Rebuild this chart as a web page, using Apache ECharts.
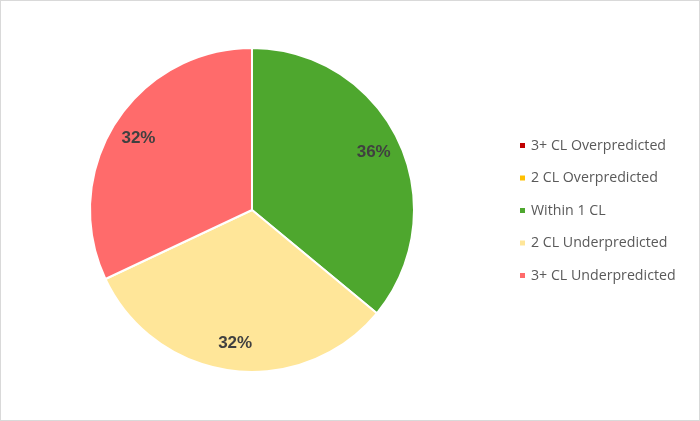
<!DOCTYPE html>
<html>
<head>
<meta charset="utf-8">
<script src="https://cdn.jsdelivr.net/npm/echarts@6/dist/echarts.min.js"></script>
<style>
    html, body { margin: 0; padding: 0; background: #fff; }
    #chart { width: 700px; height: 421px; box-sizing: border-box; border: 1px solid #d9d9d9; }
</style>
</head>
<body>
<div id="chart"></div>
<script>
const categories = ['3+ CL Overpredicted', '2 CL Overpredicted', 'Within 1 CL', '2 CL Underpredicted', '3+ CL Underpredicted']
const values = [0, 0, 9, 8, 8]
const colors = ['#C00000', '#FFC000', '#4EA72E', '#FFE699', '#FF6B6B']

const total = values.reduce((acc, cur) => acc + cur, 0)
const pieData = categories.map((name, i) => ({ name, value: values[i], itemStyle: { color: colors[i] } }))

const mChart = echarts.init(document.getElementById('chart'))
const center = [251, 209]
const option = {
    animation: false,
    legend: {
        orient: 'vertical',
        left: 512,
        top: 'middle',
        icon: 'rect',
        itemWidth: 7,
        itemHeight: 7,
        itemGap: 18.5,
        data: categories.map((name, i) => ({ name, itemStyle: { color: colors[i] } })),
        textStyle: {
            color: '#595959',
            fontSize: 14.2,
            fontFamily: 'Open Sans',
            lineHeight: 14
        }
    },
    series: [
        {
            // 饼图本体
            type: 'pie',
            center,
            radius: 162,
            startAngle: 90,
            clockwise: true,
            silent: true,
            data: pieData,
            itemStyle: { borderColor: '#fff', borderWidth: 2 },
            label: { show: false },
            labelLine: { show: false }
        },
        {
            // 只用来放百分比标签
            type: 'pie',
            center,
            radius: [101, 162],
            startAngle: 90,
            clockwise: true,
            silent: true,
            data: pieData.map(d => ({ name: d.name, value: d.value, itemStyle: { color: 'transparent' } })),
            itemStyle: { borderWidth: 0 },
            label: {
                show: true,
                position: 'inside',
                formatter: (params) => params.value > 0 ? Math.round(params.value / total * 100) + '%' : '',
                color: '#404040',
                fontSize: 17,
                fontWeight: 'bold',
                fontFamily: 'Liberation Sans'
            },
            labelLine: { show: false }
        }
    ]
}
mChart.setOption(option)
</script>
</body>
</html>
